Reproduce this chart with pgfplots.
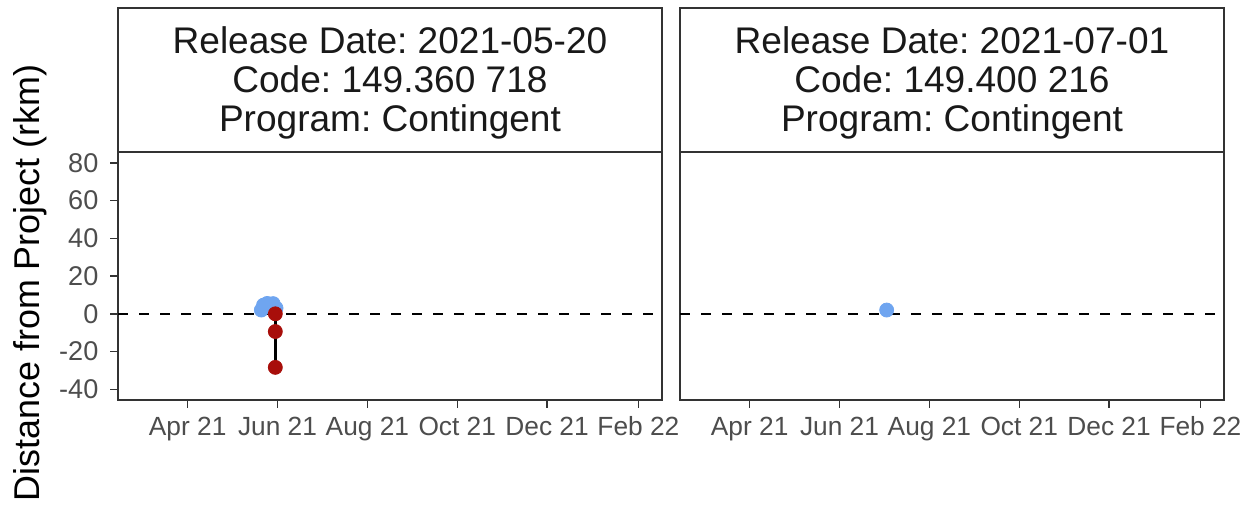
\documentclass[border=0pt]{standalone}
\usepackage{fontspec}
\setmainfont{Liberation Sans}
\usepackage{pgfplots}
\pgfplotsset{compat=1.18}
\definecolor{ptblue}{HTML}{6FA5F0}
\definecolor{ptred}{HTML}{A80E0A}
\definecolor{frame}{HTML}{333333}
\definecolor{ticklab}{HTML}{4D4D4D}
\pgfplotsset{
 facet/.style={
  scale only axis, width=272bp, height=124bp,
  xmin=42.7, xmax=412, ymin=-45.7, ymax=85.8,
  axis line style={frame, line width=0.7bp},
  xtick={90,151,212,273,334,396},
  xticklabels={Apr 21,Jun 21,Aug 21,Oct 21,Dec 21,Feb 22},
  ytick={-40,-20,0,20,40,60,80},
  tick align=outside, tick pos=left,
  major tick length=3.8bp,
  every tick/.style={frame, line width=0.7bp},
  xticklabel style={font=\fontsize{13.2}{15}\selectfont, text=ticklab, yshift=-1bp},
  yticklabel style={font=\fontsize{13.6}{16}\selectfont, text=ticklab, xshift=-2.5bp},
  /pgf/number format/assume math mode=true,
  clip=false,
 },
}
\tikzset{strip/.style={draw=frame, line width=0.7bp, fill=white},
 striptext/.style={align=center, font=\fontsize{18.6}{19.5}\selectfont\frenchspacing, text=black!90}}
\begin{document}
\begin{tikzpicture}
\useasboundingbox (0,0) rectangle (627bp,255bp);
% left panel
\begin{axis}[facet, at={(59bp,55bp)}, anchor=south west, name=ax1]
\addplot[black, line width=0.7bp, dash pattern=on 5bp off 5.5bp] coordinates {(42.7,0) (412,0)};
\addplot[only marks, mark=*, mark size=3.5bp, color=ptblue] coordinates {
(140,2.0) (141.5,4.6) (144,5.5) (148,5.4) (150,3.0)};
\addplot[black, line width=1.4bp] coordinates {(149.5,0) (149.5,-9.4) (149.5,-28.4)};
\addplot[only marks, mark=*, mark size=3.5bp, color=ptred] coordinates {
(149.5,0) (149.5,-9.4) (149.5,-28.4)};
\end{axis}
% right panel
\begin{axis}[facet, at={(340bp,55bp)}, anchor=south west, name=ax2, ytick=\empty]
\addplot[black, line width=0.7bp, dash pattern=on 5bp off 5.5bp] coordinates {(42.7,0) (412,0)};
\addplot[only marks, mark=*, mark size=3.5bp, color=ptblue] coordinates {(183,2.0)};
\end{axis}
% strips
\draw[strip] (ax1.north west) rectangle ([yshift=72bp]ax1.north east);
\draw[strip] (ax2.north west) rectangle ([yshift=72bp]ax2.north east);
\draw[frame, line width=1.3bp] (ax1.north west) -- (ax1.north east);
\draw[frame, line width=1.3bp] (ax2.north west) -- (ax2.north east);
\node[striptext] at ([yshift=34.5bp]ax1.north)
 {Release Date: 2021-05-20\\Code: 149.360 718\\Program: Contingent};
\node[striptext] at ([yshift=34.5bp]ax2.north)
 {Release Date: 2021-07-01\\Code: 149.400 216\\Program: Contingent};
% y label
\node[rotate=90, font=\fontsize{18}{20}\selectfont] at (15bp,113.5bp) {Distance from Project (rkm)};
\end{tikzpicture}
\end{document}
